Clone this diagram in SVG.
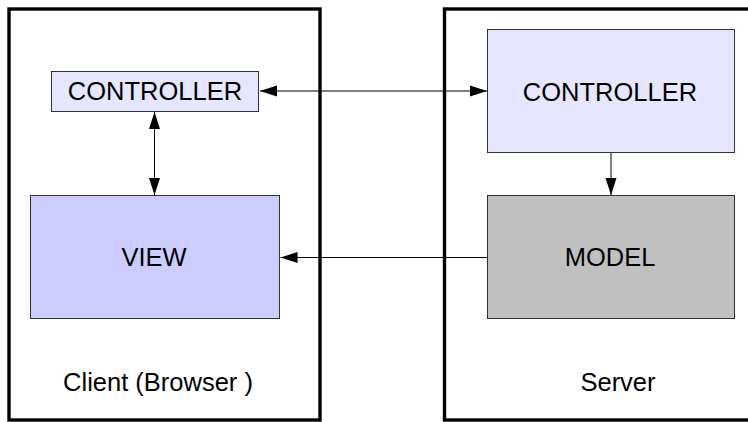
<svg xmlns="http://www.w3.org/2000/svg" width="748" height="422" viewBox="0 0 748 422">
  <style>
    .frame { fill: #ffffff; stroke: #000000; stroke-width: 3.4; }
    .box { stroke: #333333; stroke-width: 1; }
    .ctrl { fill: #e6e6ff; }
    .view { fill: #ccccff; }
    .model { fill: #c0c0c0; }
    .label { font-family: "Liberation Sans", Arial, sans-serif; font-size: 25.5px; fill: #000000; text-anchor: middle; }
    .conn { stroke: #000000; stroke-width: 1; fill: none; }
  </style>
  <defs>
    <marker id="arrowEnd" markerUnits="userSpaceOnUse" markerWidth="18" markerHeight="12" refX="17" refY="6" orient="auto">
      <path d="M0,0.5 L17,6 L0,11.5 Z" fill="#000000"/>
    </marker>
    <marker id="arrowStart" markerUnits="userSpaceOnUse" markerWidth="18" markerHeight="12" refX="0" refY="6" orient="auto">
      <path d="M17,0.5 L0,6 L17,11.5 Z" fill="#000000"/>
    </marker>
  </defs>
  <rect width="748" height="422" fill="#ffffff"/>

  <g id="client">
    <rect class="frame" x="9" y="9" width="311" height="411"/>
    <text class="label" x="158" y="391">Client (Browser )</text>
  </g>
  <g id="server">
    <rect class="frame" x="444.5" y="9" width="320" height="411"/>
    <text class="label" x="618" y="391">Server</text>
  </g>

  <g id="client-controller">
    <rect class="box ctrl" x="51.5" y="71.5" width="207" height="40"/>
    <text class="label" x="155" y="100">CONTROLLER</text>
  </g>
  <g id="view">
    <rect class="box view" x="30.5" y="195.5" width="249" height="123"/>
    <text class="label" x="154" y="266">VIEW</text>
  </g>
  <g id="server-controller">
    <rect class="box ctrl" x="487.5" y="29.5" width="247" height="123"/>
    <text class="label" x="610" y="101">CONTROLLER</text>
  </g>
  <g id="model">
    <rect class="box model" x="487.5" y="195.5" width="247" height="123"/>
    <text class="label" x="610" y="266">MODEL</text>
  </g>

  <g id="connectors">
    <line class="conn" x1="260" y1="91" x2="487" y2="91" marker-start="url(#arrowStart)" marker-end="url(#arrowEnd)"/>
    <line class="conn" x1="154.5" y1="112" x2="154.5" y2="195" marker-start="url(#arrowStart)" marker-end="url(#arrowEnd)"/>
    <line class="conn" x1="611" y1="153" x2="611" y2="195" marker-end="url(#arrowEnd)"/>
    <line class="conn" x1="487" y1="257.5" x2="280.5" y2="257.5" marker-end="url(#arrowEnd)"/>
  </g>
</svg>
